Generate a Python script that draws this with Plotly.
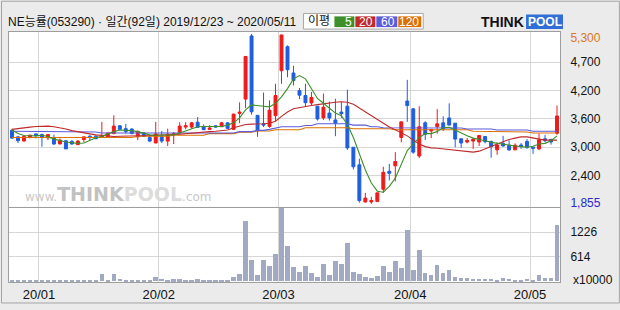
import pandas as pd
import plotly.graph_objects as go

# ---------------- data ----------------
stock_title = "NE능률(053290) · 일간(92일) 2019/12/23 ~ 2020/05/11"
holidays = ["2019-12-25", "2019-12-31", "2020-01-01", "2020-01-24", "2020-01-27",
            "2020-04-15", "2020-04-30", "2020-05-01", "2020-05-05"]
dates = [d for d in pd.bdate_range("2019-12-23", "2020-05-11")
         if d.strftime("%Y-%m-%d") not in holidays]

open_p = [3346, 3214, 3128, 3201, 3274, 3260, 3194, 3201, 3069, 3135,
          3122, 3056, 3161, 3227, 3227, 3201, 3214, 3280, 3439, 3379,
          3373, 3214, 3293, 3201, 3089, 3214, 3128, 3254, 3300, 3412,
          3412, 3511, 3419, 3366, 3439, 3419, 3498, 3366, 3689, 3980,
          5260, 3650, 3478, 3425, 3643, 4554, 5042, 4508, 4151, 4052,
          3901, 3835, 3597, 3696, 3557, 3716, 3835, 3003, 2647, 1894,
          1894, 1901, 2152, 2515, 2627, 3201, 3940, 3782, 2825, 3498,
          3333, 3419, 3498, 3597, 3491, 3175, 3109, 3128, 3109, 3221,
          3122, 2950, 3082, 3043, 2950, 3049, 3122, 3003, 2970, 3175,
          3161, 3287]
high_p = [3379, 3234, 3247, 3260, 3274, 3280, 3260, 3260, 3181, 3135,
          3148, 3148, 3214, 3247, 3241, 3518, 3293, 3650, 3452, 3478,
          3386, 3340, 3306, 3254, 3518, 3333, 3379, 3313, 3511, 3511,
          3518, 3617, 3465, 3452, 3439, 3518, 3511, 3676, 3914, 4844,
          5300, 3650, 4112, 3953, 4290, 5280, 5069, 4653, 4204, 4290,
          4125, 3835, 4092, 3927, 3986, 3914, 4171, 3003, 2772, 2079,
          1999, 2079, 2607, 2666, 2904, 3518, 4369, 3795, 3835, 3531,
          3366, 3775, 3630, 3894, 3491, 3175, 3188, 3181, 3254, 3221,
          3135, 3102, 3234, 3142, 3082, 3089, 3168, 3016, 3280, 3254,
          3175, 3848]
low_p = [3181, 3089, 3128, 3181, 3181, 3016, 3148, 3049, 3069, 2970,
         3056, 3056, 3102, 3135, 3175, 3201, 3201, 3267, 3359, 3280,
         3267, 3148, 3214, 3109, 3089, 3089, 3029, 3069, 3267, 3366,
         3379, 3406, 3359, 3366, 3399, 3419, 3373, 3353, 3491, 3795,
         3663, 3214, 3412, 3399, 3531, 4290, 4422, 4257, 3980, 3822,
         3841, 3544, 3557, 3544, 3227, 3597, 2950, 2554, 1880, 1881,
         1855, 1901, 2079, 2330, 2310, 3102, 3518, 2871, 2785, 3148,
         3188, 3280, 3333, 3452, 3003, 2990, 3082, 2970, 3029, 3082,
         2792, 2851, 3016, 2930, 2950, 2970, 2970, 2871, 2943, 3102,
         3056, 3254]
close_p = [3188, 3135, 3221, 3247, 3241, 3201, 3260, 3069, 3148, 2970,
           3069, 3128, 3214, 3201, 3175, 3241, 3293, 3432, 3366, 3320,
           3280, 3326, 3221, 3128, 3274, 3128, 3267, 3280, 3432, 3439,
           3498, 3406, 3359, 3392, 3412, 3498, 3386, 3676, 3716, 4844,
           3722, 3333, 3452, 3755, 4052, 5280, 4574, 4356, 4059, 3907,
           4013, 3577, 3815, 3597, 3491, 3683, 2990, 2607, 1921, 1973,
           1921, 2079, 2495, 2475, 2713, 3518, 3848, 2904, 3419, 3267,
           3366, 3478, 3373, 3452, 3168, 3089, 3142, 3168, 3241, 3115,
           3016, 3049, 3029, 2950, 3043, 3016, 3003, 2983, 3155, 3135,
           3109, 3637]
volume = [30, 25, 25, 25, 25, 25, 25, 25, 25, 25,
          25, 25, 25, 25, 25, 180, 30, 180, 57, 30,
          30, 30, 30, 30, 106, 57, 33, 49, 49, 30,
          30, 49, 30, 30, 30, 30, 30, 106, 180, 1503,
          523, 155, 523, 376, 694, 1839, 890, 351, 229, 376,
          204, 106, 425, 155, 498, 425, 964, 229, 180, 106,
          82, 131, 376, 229, 498, 327, 1283, 278, 792, 204,
          155, 400, 204, 278, 106, 82, 82, 57, 57, 57,
          57, 33, 82, 57, 33, 33, 57, 33, 155, 82,
          82, 1405]
ma5 = [3353, 3280, 3241, 3234, 3234, 3247, 3221, 3168, 3135, 3109,
       3095, 3082, 3089, 3148, 3194, 3227, 3280, 3320, 3353, 3353,
       3340, 3320, 3280, 3254, 3247, 3247, 3241, 3254, 3293, 3340,
       3386, 3419, 3425, 3425, 3425, 3425, 3452, 3498, 3597, 3762,
       3861, 3854, 3835, 3821, 3894, 4026, 4191, 4389, 4455, 4389,
       4191, 3993, 3894, 3795, 3696, 3643, 3465, 3201, 2871, 2541,
       2277, 2112, 2092, 2211, 2376, 2673, 2937, 3069, 3201, 3280,
       3280, 3320, 3399, 3406, 3346, 3280, 3234, 3188, 3168, 3135,
       3102, 3082, 3056, 3036, 3029, 3016, 3003, 3023, 3069, 3082,
       3135, 3234]
ma20 = [3366, 3386, 3399, 3412, 3425, 3432, 3432, 3419, 3399, 3373,
        3340, 3313, 3293, 3274, 3254, 3241, 3227, 3221, 3227, 3227,
        3227, 3234, 3234, 3241, 3247, 3247, 3254, 3260, 3267, 3280,
        3293, 3307, 3313, 3320, 3326, 3340, 3353, 3399, 3432, 3465,
        3472, 3472, 3478, 3491, 3531, 3630, 3716, 3782, 3808, 3821,
        3848, 3868, 3887, 3901, 3914, 3927, 3914, 3874, 3795, 3716,
        3650, 3564, 3478, 3412, 3359, 3300, 3234, 3148, 3069, 3016,
        2990, 2983, 2970, 2950, 2937, 2924, 2904, 2904, 2924, 2963,
        3016, 3069, 3122, 3161, 3188, 3214, 3214, 3188, 3161, 3148,
        3148, 3148]
ma60 = [3326, 3326, 3326, 3326, 3326, 3326, 3326, 3326, 3313, 3313,
        3313, 3313, 3313, 3313, 3313, 3293, 3293, 3280, 3280, 3280,
        3280, 3280, 3280, 3280, 3280, 3280, 3280, 3280, 3280, 3280,
        3280, 3280, 3280, 3280, 3293, 3293, 3293, 3293, 3320, 3320,
        3320, 3346, 3346, 3366, 3386, 3419, 3419, 3419, 3419, 3445,
        3445, 3478, 3478, 3478, 3478, 3478, 3478, 3452, 3452, 3452,
        3419, 3419, 3399, 3399, 3392, 3392, 3392, 3392, 3392, 3392,
        3392, 3392, 3392, 3392, 3392, 3392, 3373, 3373, 3373, 3373,
        3373, 3353, 3353, 3353, 3353, 3353, 3353, 3326, 3326, 3326,
        3326, 3326]
ma120 = [3201, 3201, 3201, 3201, 3201, 3201, 3201, 3201, 3201, 3201,
         3201, 3201, 3201, 3201, 3201, 3201, 3201, 3201, 3201, 3201,
         3201, 3227, 3227, 3227, 3227, 3227, 3227, 3247, 3247, 3247,
         3247, 3247, 3247, 3280, 3280, 3280, 3280, 3280, 3307, 3307,
         3307, 3333, 3333, 3333, 3359, 3359, 3359, 3359, 3359, 3399,
         3399, 3399, 3399, 3399, 3399, 3399, 3399, 3379, 3379, 3379,
         3379, 3379, 3379, 3379, 3359, 3359, 3359, 3359, 3359, 3359,
         3359, 3359, 3359, 3359, 3359, 3359, 3359, 3326, 3326, 3326,
         3326, 3326, 3313, 3313, 3313, 3313, 3313, 3293, 3293, 3293,
         3293, 3293]
month_labels = ["20/01", "20/02", "20/03", "20/04", "20/05"]
price_tick_labels = ["2,400", "3,000", "3,600", "4,200", "4,700"]
volume_tick_labels = ["614", "1226"]
volume_unit = "x10000"
ma_names = ["5", "20", "60", "120"]

# ---------------- styling / layout constants ----------------
W, H = 620, 310
ML, MR, MT, MB = 8, 60, 32, 22
PW, PH = W - ML - MR, H - MT - MB
BG = "#ebebeb"
GRID = "#d6d6d6"
FRAME = "#9e9e9e"
UP, DOWN = "#f01a1a", "#1e5ee0"
MA_COLORS = ["#3d8f2a", "#c02a2a", "#5b5bdc", "#dc7000"]
FONT = "Liberation Sans, Noto Sans CJK KR, sans-serif"


def px(x):
    return (x - ML) / PW


def py(y):
    return (H - MB - y) / PH


n = len(dates)
idx = list(range(n))
month_pos = [i - 0.5 for i in range(1, n) if dates[i].month != dates[i - 1].month]

pmin, pmax = min(low_p), max(high_p)
unit = (pmax - pmin) / 174.0          # price per pixel
price_range = [pmin - 3 * unit, pmax + 2 * unit]
price_grid = [pmin + k * (pmax - pmin) / 6 for k in range(1, 6)]
vmax = max(volume)
vol_range = [-vmax / 75.0, vmax]
vol_grid = [vmax / 3, 2 * vmax / 3]

price_dom = [py(211), 1]
vol_dom = [0, py(212)]

fig = go.Figure()

fig.add_trace(go.Bar(x=idx, y=volume, xaxis="x2", yaxis="y2", width=0.75,
                     marker=dict(color="#a1aac2", line=dict(width=0)),
                     hoverinfo="skip", showlegend=False))

fig.add_trace(go.Candlestick(
    x=idx, open=open_p, high=high_p, low=low_p, close=close_p,
    xaxis="x", yaxis="y", whiskerwidth=0,
    increasing=dict(line=dict(color=UP, width=1), fillcolor=UP),
    decreasing=dict(line=dict(color=DOWN, width=1), fillcolor=DOWN),
    hoverinfo="skip", showlegend=False))

for series, col in zip([ma120, ma60, ma20, ma5], MA_COLORS[::-1]):
    fig.add_trace(go.Scatter(x=idx, y=series, xaxis="x", yaxis="y", mode="lines",
                             line=dict(color=col, width=1.1),
                             hoverinfo="skip", showlegend=False))

# invisible helper trace for the min/max label axis
fig.add_trace(go.Scatter(x=[0], y=[pmin], xaxis="x", yaxis="y3", mode="markers",
                         marker=dict(opacity=0), hoverinfo="skip", showlegend=False))

axis_common = dict(showline=True, mirror=True, linecolor=FRAME, linewidth=1,
                   zeroline=False, fixedrange=True)

fig.update_layout(
    width=W, height=H, margin=dict(l=ML, r=MR, t=MT, b=MB),
    paper_bgcolor=BG, plot_bgcolor="white",
    font=dict(family=FONT, size=12, color="#222"),
    boxgap=0.3, bargap=0,
    xaxis=dict(domain=[0, 1], anchor="y", range=[-0.5, n - 0.5],
               tickvals=month_pos, showticklabels=False, showgrid=True,
               gridcolor=GRID, gridwidth=1, ticks="",
               rangeslider=dict(visible=False), **axis_common),
    xaxis2=dict(domain=[0, 1], anchor="y2", range=[-0.5, n - 0.5], matches="x",
                tickvals=month_pos, ticktext=month_labels, showgrid=True,
                gridcolor=GRID, gridwidth=1, ticks="",
                tickfont=dict(size=13, color="#111"), **axis_common),
    yaxis=dict(domain=price_dom, anchor="x", side="right", range=price_range,
               tickvals=price_grid, ticktext=price_tick_labels, showgrid=True,
               gridcolor=GRID, gridwidth=1, ticks="outside", ticklen=7,
               tickcolor="rgba(0,0,0,0)", tickfont=dict(size=12, color="#111"),
               **axis_common),
    # max / min labels (kept inside the panel like the original)
    yaxis3=dict(overlaying="y", anchor="x", side="right", range=price_range,
                tickvals=[pmax - 4 * unit, pmin + 1 * unit],
                ticktext=["<span style='color:#d9781e'>" + f"{pmax:,}" + "</span>",
                          "<span style='color:#2a2ad0'>" + f"{pmin:,}" + "</span>"],
                showgrid=False, showline=False, zeroline=False, ticks="outside",
                ticklen=7, tickcolor="rgba(0,0,0,0)",
                tickfont=dict(size=12), fixedrange=True),
    yaxis2=dict(domain=vol_dom, anchor="x2", side="right", range=vol_range,
                tickvals=vol_grid, ticktext=volume_tick_labels, showgrid=True,
                gridcolor=GRID, gridwidth=1, ticks="outside", ticklen=7,
                tickcolor="rgba(0,0,0,0)", tickfont=dict(size=12, color="#111"),
                **axis_common),
)

shapes = []
annotations = []

# outer border of the whole picture
shapes.append(dict(type="rect", xref="paper", yref="paper",
                   x0=px(0.5), x1=px(619.5), y0=py(309.5), y1=py(0.5),
                   line=dict(color="#a4a4a4", width=1), fillcolor="rgba(0,0,0,0)",
                   layer="below"))

# title
annotations.append(dict(xref="paper", yref="paper", x=px(5), y=py(22),
                        xanchor="left", yanchor="middle", showarrow=False,
                        text=stock_title, font=dict(size=12, color="#111")))

# moving-average legend box
shapes.append(dict(type="rect", xref="paper", yref="paper",
                   x0=px(303), x1=px(423), y0=py(29), y1=py(13),
                   line=dict(color="#a8a8a8", width=1), fillcolor="white"))
annotations.append(dict(xref="paper", yref="paper", x=px(319), y=py(21),
                        xanchor="center", yanchor="middle", showarrow=False,
                        text="이평", font=dict(size=12, color="#111")))
box_edges = [(334, 354), (355, 375), (376, 397), (398, 421)]
for (a, b), col, name in zip(box_edges, MA_COLORS, ma_names):
    shapes.append(dict(type="rect", xref="paper", yref="paper",
                       x0=px(a), x1=px(b), y0=py(27), y1=py(16),
                       line=dict(width=0), fillcolor=col))
    annotations.append(dict(xref="paper", yref="paper", x=px(b), y=py(21.5),
                            xanchor="right", yanchor="middle", showarrow=False,
                            text=name, font=dict(size=12, color="white")))

# THINKPOOL logo
annotations.append(dict(xref="paper", yref="paper", x=px(526), y=py(22),
                        xanchor="right", yanchor="middle", showarrow=False,
                        text="<b>THINK</b>",
                        font=dict(size=14, color="#111", family="Liberation Sans")))
shapes.append(dict(type="rect", xref="paper", yref="paper",
                   x0=px(526), x1=px(563), y0=py(29), y1=py(14),
                   line=dict(width=0), fillcolor="#2f6fd6"))
annotations.append(dict(xref="paper", yref="paper", x=px(544.5), y=py(22),
                        xanchor="center", yanchor="middle", showarrow=False,
                        text="<b>POOL</b>",
                        font=dict(size=12, color="white", family="Liberation Sans")))

# watermark
annotations.append(dict(xref="paper", yref="paper", x=px(22), y=py(211),
                        xanchor="left", yanchor="bottom", showarrow=False,
                        text="www.<b><span style='font-size:19px;color:#c2c2c2'>THINK</span>"
                             "<span style='font-size:19px;color:#dcdcdc'>POOL</span></b>.com",
                        font=dict(size=12, color="#c8c8c8", family="DejaVu Sans")))

# volume unit
annotations.append(dict(xref="paper", yref="paper", x=px(593), y=py(286),
                        xanchor="center", yanchor="middle", showarrow=False,
                        text=volume_unit, font=dict(size=12, color="#111")))

fig.update_layout(shapes=shapes, annotations=annotations)

fig.write_html("out.html")
